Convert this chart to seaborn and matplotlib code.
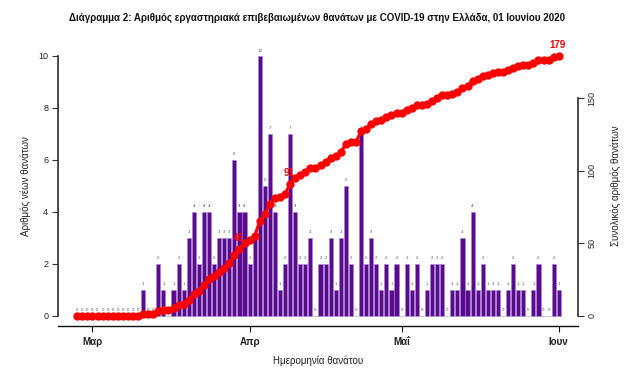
import numpy as np
import pandas as pd
import matplotlib
matplotlib.use("Agg")
import matplotlib.pyplot as plt
import seaborn as sns

# Daily deaths, 27 Feb 2020 .. 01 Jun 2020
start_date = "2020-02-27"
daily_deaths = [
    0, 0, 0,                                              # 27-29 Feb
    0, 0, 0, 0, 0, 0, 0, 0, 0, 0,                         # 1-10 Mar
    1, 0, 0, 2, 1, 0, 1, 2, 1, 3, 4, 2, 4, 4, 2, 3, 3, 3, 6, 4, 4,   # 11-31 Mar
    2, 3, 10, 5, 7, 4, 1, 2, 7, 4, 2, 2, 3, 0, 2, 2, 3, 1, 3, 5,     # 1-20 Apr
    2, 0, 7, 2, 3, 2, 1, 2, 1, 2,                         # 21-30 Apr
    0, 2, 1, 2, 0, 1, 2, 2, 2, 0, 1, 1, 3, 1, 4, 1, 2, 1, 1, 1,      # 1-20 May
    0, 1, 2, 1, 1, 0, 1, 2, 0, 0, 2,                      # 21-31 May
    1,                                                    # 1 Jun
]
labelled_days = ["2020-03-30", "2020-04-09", "2020-06-01"]
tick_dates = ["2020-03-01", "2020-04-01", "2020-05-01", "2020-06-01"]
tick_labels = ["Μαρ", "Απρ", "Μαΐ", "Ιουν"]

title = "Διάγραμμα 2: Αριθμός εργαστηριακά επιβεβαιωμένων θανάτων με COVID-19 στην Ελλάδα, 01 Ιουνίου 2020"
xlabel = "Ημερομηνία θανάτου"
ylabel_left = "Αριθμός νέων θανάτων"
ylabel_right = "Συνολικός αριθμός θανάτων"

dates = pd.date_range(start_date, periods=len(daily_deaths), freq="D")
df = pd.DataFrame({"date": dates, "day": np.arange(len(daily_deaths)),
                   "daily": daily_deaths})
df["cum"] = df["daily"].cumsum()

sns.set_theme(style="white")
plt.rcParams["font.family"] = ["Liberation Sans Narrow", "Liberation Sans", "DejaVu Sans"]

fig = plt.figure(figsize=(6.26, 3.69), dpi=100)
ax = fig.add_axes([58 / 626, 43 / 369, 520 / 626, 280.4 / 369])

sns.barplot(data=df, x="day", y="daily", native_scale=True, color="#5a0a8e",
            saturation=1, width=0.82, edgecolor="#a883cc", linewidth=0.4, ax=ax)
ax.bar_label(ax.containers[0], labels=[str(v) for v in df["daily"]],
             padding=2.5, fontsize=3.2, color="#555555")

n = len(df)
ax.set_xlim(-0.04 * (n - 1), (n - 1) * 1.04)
ax.set_ylim(-0.4, 10.4)
ax.set_yticks([0, 2, 4, 6, 8, 10])
ax.set_yticklabels(["0", "2", "4", "6", "8", "10"])
tick_pos = [int(df.loc[df["date"] == pd.Timestamp(t), "day"].iloc[0]) for t in tick_dates]
ax.set_xticks(tick_pos)
ax.set_xticklabels(tick_labels)
ax.set_xlabel(xlabel, fontsize=7, color="#222222", labelpad=6)
ax.set_ylabel(ylabel_left, fontsize=7, color="#222222", labelpad=5)

for s in ["top", "right"]:
    ax.spines[s].set_visible(False)
ax.spines["left"].set_bounds(0, 10)
ax.spines["left"].set_color("#333333")
ax.spines["bottom"].set_color("#111111")
ax.spines["bottom"].set_linewidth(1.0)
ax.tick_params(axis="y", length=4, width=0.8, color="#333333", labelsize=6.5,
               labelcolor="#222222", left=True, pad=3)
ax.tick_params(axis="x", length=4, width=0.8, color="#111111", labelsize=7,
               labelcolor="#222222", bottom=True, pad=4)
for t in ax.get_xticklabels():
    t.set_fontweight("bold")

ax2 = ax.twinx()
sns.lineplot(data=df, x="day", y="cum", ax=ax2, color="#ff0000", lw=2.2,
             marker="o", markersize=6, markeredgewidth=0, zorder=5)
top = df["cum"].max()
ax2.set_ylim(-0.04 * top, 1.04 * top)
ax2.set_yticks([0, 50, 100, 150])
ax2.set_yticklabels(["0", "50", "100", "150"], rotation=90, va="center")
ax2.set_ylabel(ylabel_right, fontsize=7, color="#222222", labelpad=10)
ax2.set_xlabel("")
for s in ["top", "left", "bottom"]:
    ax2.spines[s].set_visible(False)
ax2.spines["right"].set_bounds(0, 150)
ax2.spines["right"].set_color("#333333")
ax2.tick_params(axis="y", length=4, width=0.8, color="#333333", labelsize=6.5,
                labelcolor="#222222", right=True, pad=3)

for d in labelled_days:
    row = df.loc[df["date"] == pd.Timestamp(d)].iloc[0]
    ax2.annotate(str(row["cum"]), (row["day"], row["cum"]), xytext=(-1, 4),
                 textcoords="offset points", ha="center", va="bottom",
                 color="#ff0000", fontsize=7, fontweight="bold", zorder=6)

fig.text(317 / 626, 1 - 18 / 369, title, ha="center", va="center",
         fontsize=7.0, fontweight="bold", color="#111111")

fig.savefig("out.png", dpi=100)
